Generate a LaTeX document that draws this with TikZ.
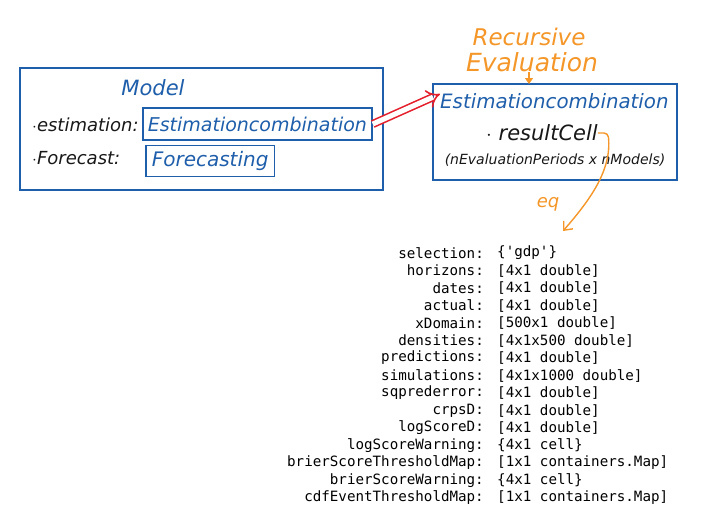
\documentclass[tikz,border=0pt]{standalone}
\usepackage{fontspec}
\usepackage{xcolor}
\usepackage{tikz}
\usetikzlibrary{positioning, arrows.meta, calc}
\newfontfamily\handfont{DejaVu Sans}[ItalicFont=* Oblique]
\newfontfamily\codefont{DejaVu Sans Mono}
\definecolor{pen}{RGB}{24,24,24}
\definecolor{boxblue}{RGB}{30,94,170}
\definecolor{markred}{RGB}{228,32,44}
\definecolor{markorange}{RGB}{244,150,40}

\begin{document}
\begin{tikzpicture}[x=1pt,y=-1pt,
                    frame/.style={draw=boxblue,line width=1.6pt},
                    hand/.style={inner sep=0pt,font=\handfont\itshape\fontsize{19}{21}\selectfont},
                    key/.style={anchor=east,inner sep=0pt,font=\codefont\fontsize{14.2}{16}\selectfont},
                    val/.style={anchor=west,inner sep=0pt,font=\codefont\fontsize{14.2}{16}\selectfont}]
  \useasboundingbox (0,0) rectangle (708,528);
  % model object
  \draw[frame] (20,68) rectangle (383,190);
  \node[hand, text=boxblue, font=\handfont\itshape\fontsize{21}{23}\selectfont] (model) at (153,88) {Model};
  \node[hand, anchor=west, text=pen, font=\handfont\itshape\fontsize{18}{20}\selectfont] (estlab) at (32,125) {$\cdot$estimation:};
  \node[hand, anchor=west, text=pen, font=\handfont\itshape\fontsize{18}{20}\selectfont] (fclab) at (32,158) {$\cdot$Forecast:};
  \node[frame, hand, anchor=west, text=boxblue, minimum height=32pt, inner xsep=5pt] (estbox) at (142,124) {Estimationcombination};
  \node[frame, hand, anchor=west, text=boxblue, minimum height=31pt, inner xsep=6pt, font=\handfont\itshape\fontsize{20}{22}\selectfont] (fcbox) at (145,161) {Forecasting};
  % recursive evaluation object
  \draw[frame] (433,84) rectangle (677,180);
  \node[hand, anchor=west, text=boxblue, font=\handfont\itshape\fontsize{19.8}{22}\selectfont] (rtitle) at (440,101) {Estimationcombination};
  \node[hand, text=pen, font=\handfont\itshape\fontsize{21}{23}\selectfont] (rescell) at (542,133) {$\cdot$ resultCell};
  \node[hand, text=pen, font=\handfont\itshape\fontsize{14}{16}\selectfont] (dims) at (555,160) {(nEvaluationPeriods x nModels)};
  \node[hand, text=markorange, font=\handfont\itshape\fontsize{23}{25}\selectfont] (recur) at (529,37) {Recursive};
  \node[hand, text=markorange, font=\handfont\itshape\fontsize{25}{27}\selectfont] (evalu) at (532,62) {Evaluation};
  \coordinate (boxtop) at (529,84);
  \draw[markorange, line width=1.4pt, -{Triangle[length=6pt,width=8pt]}] (evalu.south -| boxtop) -- (boxtop);
  \draw[markred, line width=1.6pt, double, double distance=5pt, -{Implies}] (estbox.east) -- ($(rtitle.west)+(0,-7)$);
  % result cell contents
  \coordinate (eqtip) at (563,231);
  \draw[markorange, line width=1.4pt, -{Straight Barb[length=7pt,width=12pt]}, rounded corners=4pt]
    (rescell.east) -- ++(10,0) .. controls (612,170) and (590,200) .. (eqtip);
  \node[hand, text=markorange, font=\handfont\itshape\fontsize{18}{20}\selectfont] (eq) at (548,204) {eq};
  \foreach \k/\v [count=\i] in {selection/\{'gdp'\}, horizons/[4x1 double], dates/[4x1 double],
      actual/[4x1 double], xDomain/[500x1 double], densities/[4x1x500 double],
      predictions/[4x1 double], simulations/[4x1x1000 double], sqprederror/[4x1 double],
      crpsD/[4x1 double], logScoreD/[4x1 double], logScoreWarning/\{4x1 cell\},
      brierScoreThresholdMap/[1x1 containers.Map], brierScoreWarning/\{4x1 cell\},
      cdfEventThresholdMap/[1x1 containers.Map]} {
    \node[key] (k\i) at (484,{253+17.5*(\i-1)}) {\k:};
    \node[val] (v\i) at (497,{253+17.5*(\i-1)}) {\v};
  }
\end{tikzpicture}
\end{document}
